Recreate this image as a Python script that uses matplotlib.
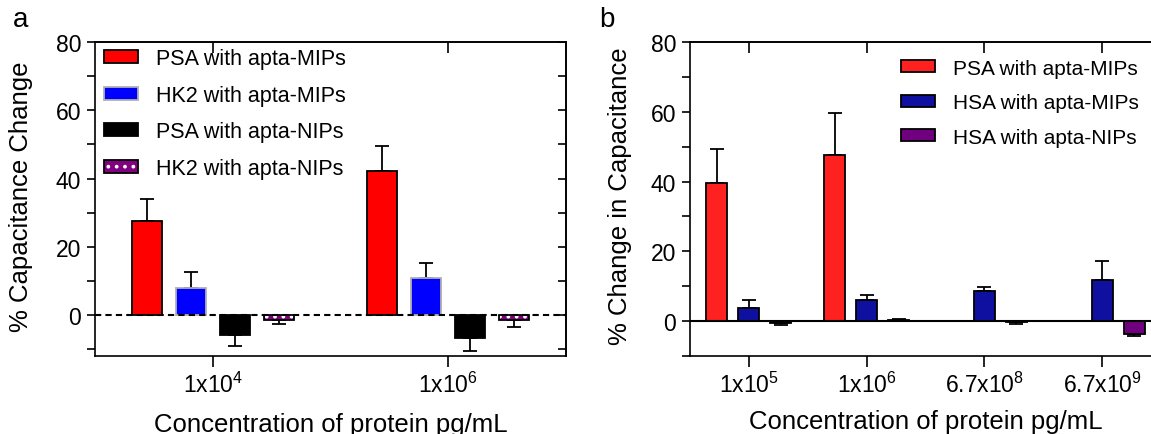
import matplotlib
matplotlib.use('Agg')
import matplotlib.pyplot as plt
from matplotlib.patches import Patch
import numpy as np

plt.rcParams['font.family'] = ['Liberation Sans', 'DejaVu Sans']
plt.rcParams['mathtext.fontset'] = 'custom'
plt.rcParams['mathtext.rm'] = 'Liberation Sans'
plt.rcParams['mathtext.default'] = 'regular'
plt.rcParams['hatch.linewidth'] = 1.5

# panel a data
conc_a = ['1x10$^{4}$', '1x10$^{6}$']
labels_a = ['PSA with apta-MIPs', 'HK2 with apta-MIPs', 'PSA with apta-NIPs', 'HK2 with apta-NIPs']
psa_mip_a = [27.5, 42.3]
psa_mip_a_err = [6.6, 7.1]
hk2_mip_a = [7.8, 10.8]
hk2_mip_a_err = [4.7, 4.4]
psa_nip_a = [-5.8, -6.8]
psa_nip_a_err = [3.2, 3.7]
hk2_nip_a = [-1.4, -1.5]
hk2_nip_a_err = [1.2, 2.1]

# panel b data
conc_b = ['1x10$^{5}$', '1x10$^{6}$', '6.7x10$^{8}$', '6.7x10$^{9}$']
labels_b = ['PSA with apta-MIPs', 'HSA with apta-MIPs', 'HSA with apta-NIPs']
psa_mip_b = [39.7, 47.7, np.nan, np.nan]
psa_mip_b_err = [9.5, 12.0, np.nan, np.nan]
hsa_mip_b = [3.7, 6.1, 8.5, 11.8]
hsa_mip_b_err = [2.4, 1.4, 1.4, 5.4]
hsa_nip_b = [-0.6, 0.46, -0.3, -3.6]
hsa_nip_b_err = [0.5, 0.2, 0.6, 0.7]

TICK_FS = 16.5
LABEL_FS = 18.5
LEG_FS = 15.5


def bars(ax, x, vals, errs, width, face, edge, hatch=None):
    vals = np.array(vals, dtype=float)
    errs = np.array(errs, dtype=float)
    lo = np.where(vals < 0, errs, 0)
    hi = np.where(vals >= 0, errs, 0)
    ax.errorbar(x, vals, yerr=[lo, hi], fmt='none', ecolor='black',
                elinewidth=1.3, capsize=5, capthick=1.3, zorder=1)
    if hatch:
        ax.bar(x, vals, width, color=face, edgecolor='white', hatch=hatch,
               linewidth=0, zorder=2)
        ax.bar(x, vals, width, fill=False, edgecolor=edge, linewidth=1.3, zorder=3)
    else:
        ax.bar(x, vals, width, color=face, edgecolor=edge, linewidth=1.3, zorder=2)


def style_left(ax, ymin):
    ax.set_yticks([0, 20, 40, 60, 80])
    ax.set_yticks([-10, 10, 30, 50, 70], minor=True)
    ax.tick_params(axis='y', which='both', direction='out', length=6, width=1.2,
                   labelsize=TICK_FS, pad=4)
    ax.tick_params(axis='x', direction='out', length=8, width=1.2, labelsize=TICK_FS, pad=3)
    ax.set_ylim(ymin, 80)
    for s in ax.spines.values():
        s.set_linewidth(1.2)


fig = plt.figure(figsize=(11.51, 4.35), dpi=100)

# ---------- panel a ----------
ax1 = fig.add_axes([95 / 1151, 78 / 435, 471 / 1151, 314 / 435])
xa = np.arange(len(conc_a))
w = 0.128
off = [-0.281, -0.094, 0.094, 0.281]
bars(ax1, xa + off[0], psa_mip_a, psa_mip_a_err, w, '#ff0000', 'black')
bars(ax1, xa + off[1], hk2_mip_a, hk2_mip_a_err, w, '#0000ff', '#b0b0b0')
bars(ax1, xa + off[2], psa_nip_a, psa_nip_a_err, w, 'black', 'black')
bars(ax1, xa + off[3], hk2_nip_a, hk2_nip_a_err, w, '#800080', 'black', hatch='..')
ax1.axhline(0, color='black', linestyle='--', linewidth=1.5, dashes=(3, 2), zorder=4)
ax1.set_xlim(-0.5, 1.5)
ax1.set_xticks(xa)
ax1.set_xticklabels(conc_a)
style_left(ax1, -12)
ax1.set_ylabel('% Capacitance Change', fontsize=LABEL_FS)
ax1.yaxis.set_label_coords(-0.132, 0.51)
ax1.set_xlabel('Concentration of protein pg/mL', fontsize=LABEL_FS)
ax1.xaxis.set_label_coords(0.5, -0.178)

top1 = ax1.secondary_xaxis('top')
top1.set_xticks(xa)
top1.set_xticklabels([])
top1.tick_params(direction='in', length=8, width=1.2)
right1 = ax1.secondary_yaxis('right')
right1.set_yticks(np.arange(-10, 81, 10))
right1.set_yticklabels([])
right1.tick_params(direction='in', length=6, width=1.2)
for s in list(top1.spines.values()) + list(right1.spines.values()):
    s.set_linewidth(1.2)

h_a = [Patch(facecolor='#ff0000', edgecolor='black', linewidth=1.3),
       Patch(facecolor='#0000ff', edgecolor='#b0b0b0', linewidth=1.3),
       Patch(facecolor='black', edgecolor='black', linewidth=1.3),
       (Patch(facecolor='#800080', edgecolor='white', hatch='..', linewidth=0),
        Patch(fill=False, edgecolor='black', linewidth=1.3))]
ax1.legend(h_a, labels_a, loc='upper left', bbox_to_anchor=(-0.018, 1.035), frameon=False,
           fontsize=LEG_FS, handlelength=1.6, handleheight=0.55, handletextpad=0.85,
           labelspacing=0.72, borderpad=0.3)

# ---------- panel b ----------
ax2 = fig.add_axes([690 / 1151, 78 / 435, 471 / 1151, 314 / 435])
xb = np.arange(len(conc_b))
wb = 0.178
bars(ax2, xb - 0.271, psa_mip_b, psa_mip_b_err, wb, '#ff2020', 'black')
bars(ax2, xb, hsa_mip_b, hsa_mip_b_err, wb, '#1010a0', 'black')
bars(ax2, xb + 0.271, hsa_nip_b, hsa_nip_b_err, wb, '#700080', 'black')
ax2.axhline(0, color='black', linewidth=1.5, zorder=4)
ax2.set_xlim(-0.5, 3.5)
ax2.set_xticks(xb)
ax2.set_xticklabels(conc_b)
style_left(ax2, -10)
ax2.spines['right'].set_visible(False)
ax2.set_ylabel('% Change in Capacitance', fontsize=LABEL_FS)
ax2.yaxis.set_label_coords(-0.123, 0.513)
ax2.set_xlabel('Concentration of protein pg/mL', fontsize=LABEL_FS)
ax2.xaxis.set_label_coords(0.5, -0.17)

top2 = ax2.secondary_xaxis('top')
top2.set_xticks(xb)
top2.set_xticklabels([])
top2.tick_params(direction='in', length=8, width=1.2)
top2.spines['top'].set_linewidth(1.2)

h_b = [Patch(facecolor='#ff2020', edgecolor='black', linewidth=1.3),
       Patch(facecolor='#1010a0', edgecolor='black', linewidth=1.3),
       Patch(facecolor='#700080', edgecolor='black', linewidth=1.3)]
ax2.legend(h_b, labels_b, loc='upper left', bbox_to_anchor=(0.412, 1.0), frameon=False,
           fontsize=15, handlelength=1.65, handleheight=0.5, handletextpad=0.85,
           labelspacing=0.74, borderpad=0.3)

fig.text(21 / 1151, 1 - 20 / 435, 'a', fontsize=20, ha='center', va='center')
fig.text(607 / 1151, 1 - 20 / 435, 'b', fontsize=20, ha='center', va='center')

fig.savefig('out.png', dpi=100)
